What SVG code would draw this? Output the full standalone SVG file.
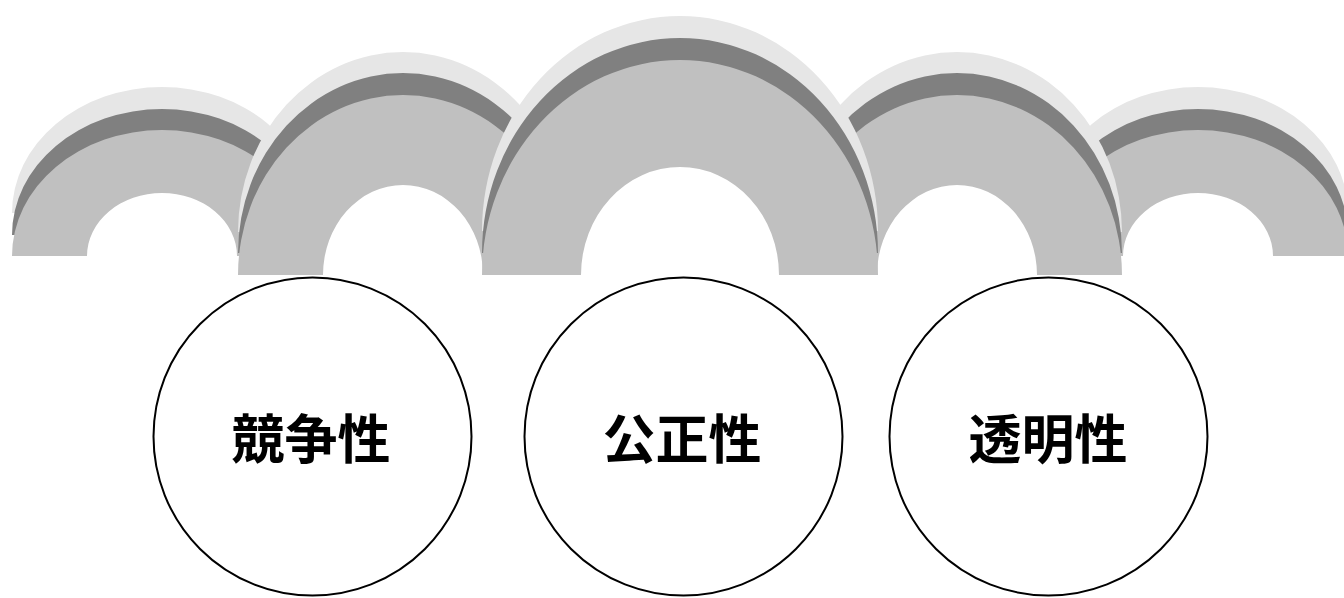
<svg xmlns="http://www.w3.org/2000/svg" xmlns:xlink="http://www.w3.org/1999/xlink" width="1344" height="598" viewBox="0 0 1344 598">
<style>
.light{fill:#e6e6e6}
.dark{fill:#808080}
.mid{fill:#c0c0c0}
.ring{fill:#ffffff;stroke:#000000;stroke-width:2}
.lbl{font-family:"Noto Sans CJK JP","Noto Sans CJK SC",sans-serif;font-weight:bold;font-size:53px;fill:#000000;text-anchor:middle}
</style>
<defs>
<path id="a1" d="M12,256 A150,126 0 0 1 312,256 L237,256 A75,63 0 0 0 87,256 Z"/>
<path id="a5" d="M1048,256 A150,126 0 0 1 1348,256 L1273,256 A75,63 0 0 0 1123,256 Z"/>
<path id="a2" d="M238,275 A165,180 0 0 1 568,275 L483,275 A80,90 0 0 0 323,275 Z"/>
<path id="a4" d="M792,275 A165,180 0 0 1 1122,275 L1037,275 A80,90 0 0 0 877,275 Z"/>
<path id="a3" d="M482,275 A198,215 0 0 1 878,275 L779,275 A99,108 0 0 0 581,275 Z"/>
</defs>
<rect width="1344" height="598" fill="#ffffff"/>
<g id="arch1">
<use xlink:href="#a1" class="light" transform="translate(0,-43)"/>
<use xlink:href="#a1" class="dark" transform="translate(0,-21)"/>
<use xlink:href="#a1" class="mid"/>
</g>
<g id="arch5">
<use xlink:href="#a5" class="light" transform="translate(0,-43)"/>
<use xlink:href="#a5" class="dark" transform="translate(0,-21)"/>
<use xlink:href="#a5" class="mid"/>
</g>
<g id="arch2">
<use xlink:href="#a2" class="light" transform="translate(0,-43)"/>
<use xlink:href="#a2" class="dark" transform="translate(0,-22)"/>
<use xlink:href="#a2" class="mid"/>
</g>
<g id="arch4">
<use xlink:href="#a4" class="light" transform="translate(0,-43)"/>
<use xlink:href="#a4" class="dark" transform="translate(0,-22)"/>
<use xlink:href="#a4" class="mid"/>
</g>
<g id="arch3">
<use xlink:href="#a3" class="light" transform="translate(0,-44)"/>
<use xlink:href="#a3" class="dark" transform="translate(0,-22)"/>
<use xlink:href="#a3" class="mid"/>
</g>
<g id="connectors"></g>
<g id="node-competition">
<circle class="ring" cx="312.5" cy="436.5" r="159"/>
<text class="lbl" x="311" y="459">競争性</text>
</g>
<g id="node-fairness">
<circle class="ring" cx="683.5" cy="436.5" r="159"/>
<text class="lbl" x="682" y="459">公正性</text>
</g>
<g id="node-transparency">
<circle class="ring" cx="1048.5" cy="436.5" r="159"/>
<text class="lbl" x="1048" y="459">透明性</text>
</g>
</svg>
